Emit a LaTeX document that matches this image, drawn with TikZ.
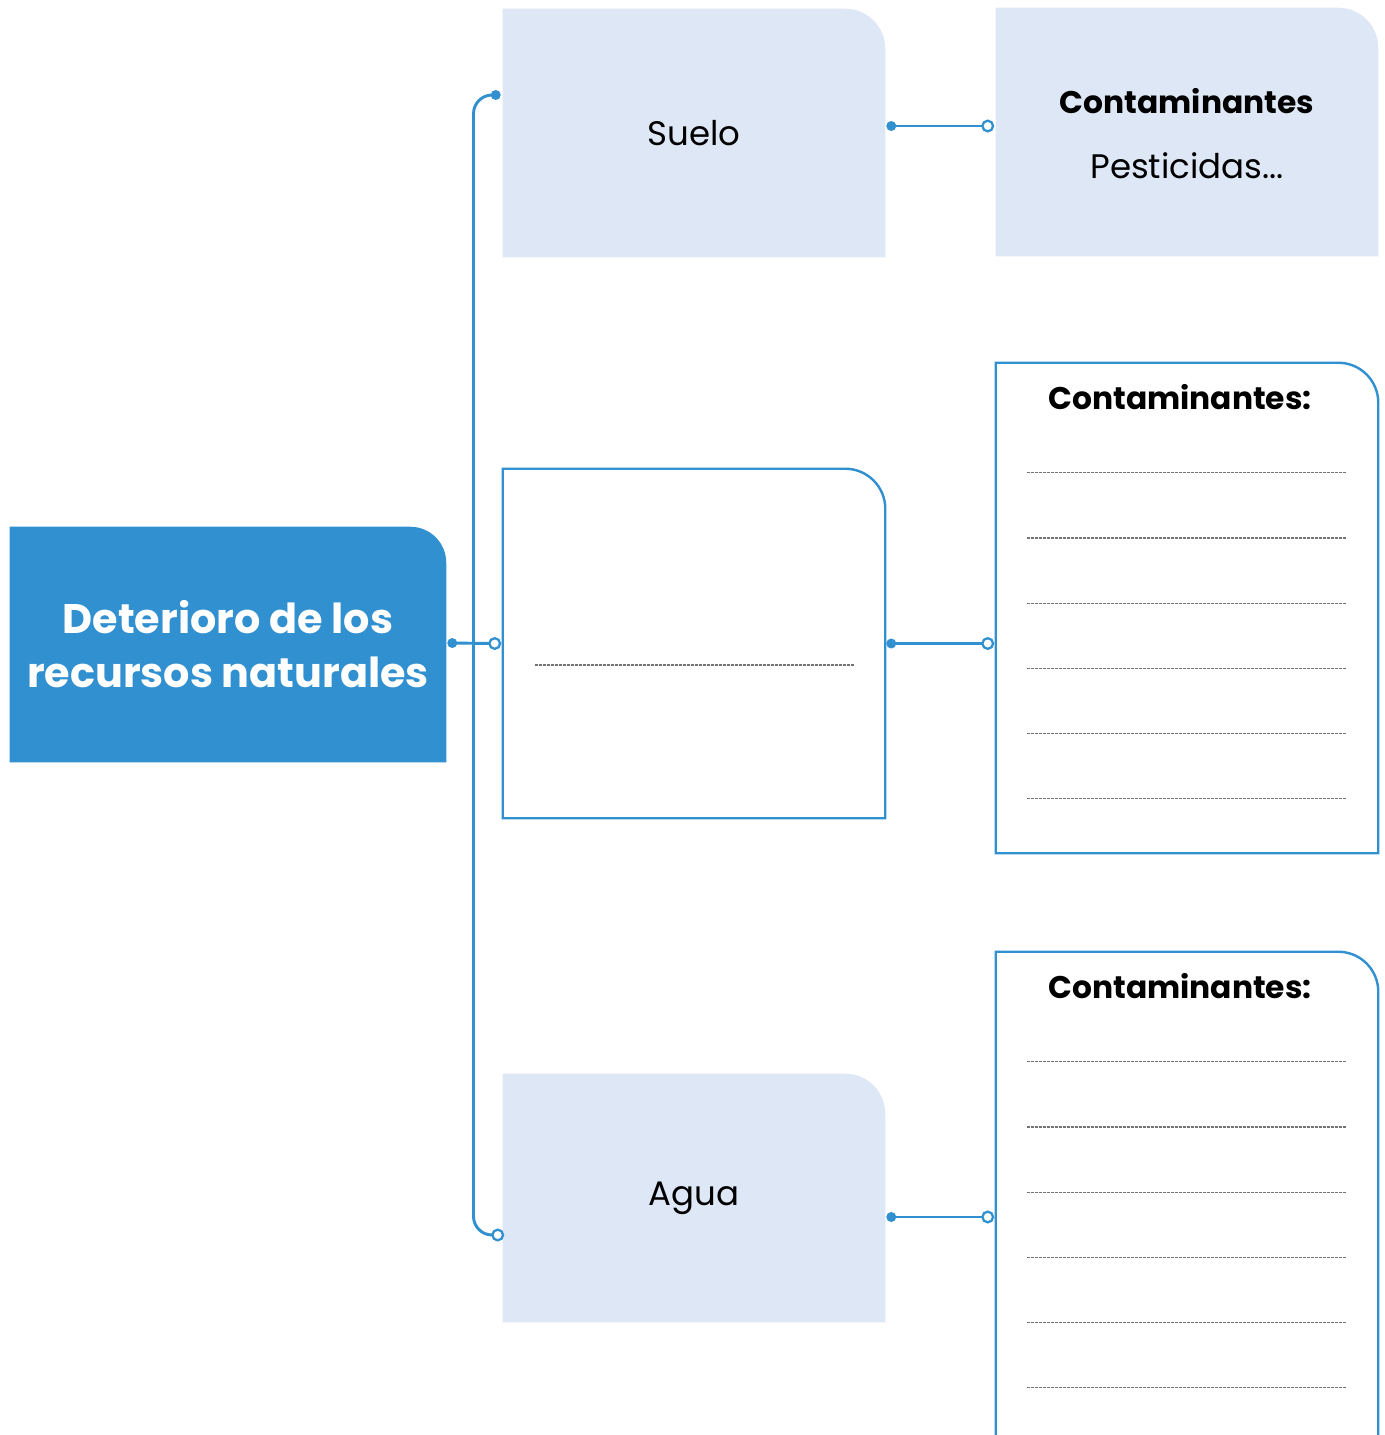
\documentclass[tikz,border=0pt]{standalone}
\usepackage{fontspec}
\setmainfont{Poppins}
\usetikzlibrary{calc,backgrounds}
\definecolor{mblue}{RGB}{49,144,208}
\definecolor{lfill}{RGB}{222,231,245}
\definecolor{dgray}{RGB}{115,115,115}
\tikzset{
  boxnode/.style={inner sep=0pt, minimum width=286.5pt, minimum height=186pt, align=center},
  conn/.style={draw=mblue, line width=2.2pt},
  dotfill/.style={fill=mblue, circle, inner sep=0pt, minimum size=7.5pt},
  dotopen/.style={draw=mblue, fill=white, circle, line width=1.7pt, inner sep=0pt, minimum size=8pt},
  rulel/.style={draw=dgray, line width=0.9pt, dash pattern=on 2.2pt off 0.8pt},
  titletext/.style={font=\fontsize{23.5}{28}\selectfont\bfseries, inner sep=0pt},
  bodytext/.style={font=\fontsize{25.5}{30}\selectfont},
}
\newcommand\trshape[3]{\path[#2] (#1.south west) -- (#1.north west) -- ([xshift=-#3]#1.north east) arc[start angle=90, end angle=0, radius=#3] -- (#1.south east) -- cycle;}
\begin{document}
\begin{tikzpicture}[x=0.75pt,y=-0.75pt]
\useasboundingbox (0,0) rectangle (1385,1435);
% nodes
\node[boxnode, minimum width=327pt, minimum height=176.25pt, text=white,
  font=\fontsize{31}{40.5}\selectfont\bfseries] (root) at (228,644.5) {Deterioro de los\\recursos naturales};
\node[boxnode, bodytext] (suelo) at (694,133) {Suelo};
\node[boxnode, minimum height=261.75pt] (mid) at (694,643.5) {};
\node[boxnode, bodytext] (agua) at (694,1198) {Agua};
\node[boxnode] (c1) at (1187,132) {};
\node[boxnode, minimum height=367.5pt] (c2) at (1187,608) {};
\node[boxnode, minimum height=369.75pt] (c3) at (1187,1198.5) {};
% texts in the contaminant boxes
\node[titletext] (c1t) at (1187,101) {Contaminantes};
\node[bodytext, inner sep=0pt] (c1b) at (1187,166) {Pesticidas...};
\node[titletext] (c2t) at ([xshift=-5.25pt,yshift=-25.5pt]c2.north) {Contaminantes:};
\node[titletext] (c3t) at ([xshift=-5.25pt,yshift=-25.5pt]c3.north) {Contaminantes:};
% shapes
\begin{scope}[on background layer]
  \trshape{root}{fill=mblue}{27pt}
  \trshape{suelo}{fill=lfill}{30pt}
  \trshape{agua}{fill=lfill}{30pt}
  \trshape{c1}{fill=lfill}{30pt}
  \trshape{mid}{draw=mblue, fill=white, line width=1.8pt}{30pt}
  \trshape{c2}{draw=mblue, fill=white, line width=1.8pt}{30pt}
  \trshape{c3}{draw=mblue, fill=white, line width=1.8pt}{30pt}
\end{scope}
% writing lines
\draw[rulel] ([xshift=24pt,yshift=-16.1pt]mid.west) -- ++(239.25pt,0);
\foreach \i in {0,...,5}{
  \draw[rulel] ([xshift=23.25pt,yshift={-(82.5+48.9*\i)*1pt}]c2.north west) -- ++(239.25pt,0);
  \draw[rulel] ([xshift=23.25pt,yshift={-(82.5+48.9*\i)*1pt}]c3.north west) -- ++(239.25pt,0);
}
% connector points
\coordinate (rOut) at ([xshift=4.5pt,yshift=1.1pt]root.east);
\coordinate (mIn) at ([xshift=-6pt]mid.west);
\coordinate (spine) at ($(rOut)!0.5!(mIn)$);
\coordinate (sIn) at ([xshift=-5.25pt,yshift=28.5pt]suelo.west);
\coordinate (aIn) at ([xshift=-3.75pt,yshift=-27.75pt]agua.west);
\coordinate (sOut) at ([xshift=4.5pt,yshift=5.25pt]suelo.east);
\coordinate (mOut) at ([xshift=4.5pt]mid.east);
\coordinate (aOut) at ([xshift=4.5pt,yshift=-14.25pt]agua.east);
\coordinate (c1In) at ([xshift=-6pt]c1.west |- sOut);
\coordinate (c2In) at ([xshift=-6pt]c2.west |- mOut);
\coordinate (c3In) at ([xshift=-6pt]c3.west |- aOut);
% connectors
\draw[conn, rounded corners=14pt] (sIn) -- (sIn -| spine) -- (aIn -| spine) -- (aIn);
\draw[conn] (rOut) -- (mIn);
\draw[conn] (sOut) -- (c1In);
\draw[conn] (mOut) -- (c2In);
\draw[conn] (aOut) -- (c3In);
\foreach \p in {rOut,sIn,sOut,mOut,aOut}{\node[dotfill] at (\p) {};}
\foreach \p in {mIn,aIn,c1In,c2In,c3In}{\node[dotopen] at (\p) {};}
\end{tikzpicture}
\end{document}
